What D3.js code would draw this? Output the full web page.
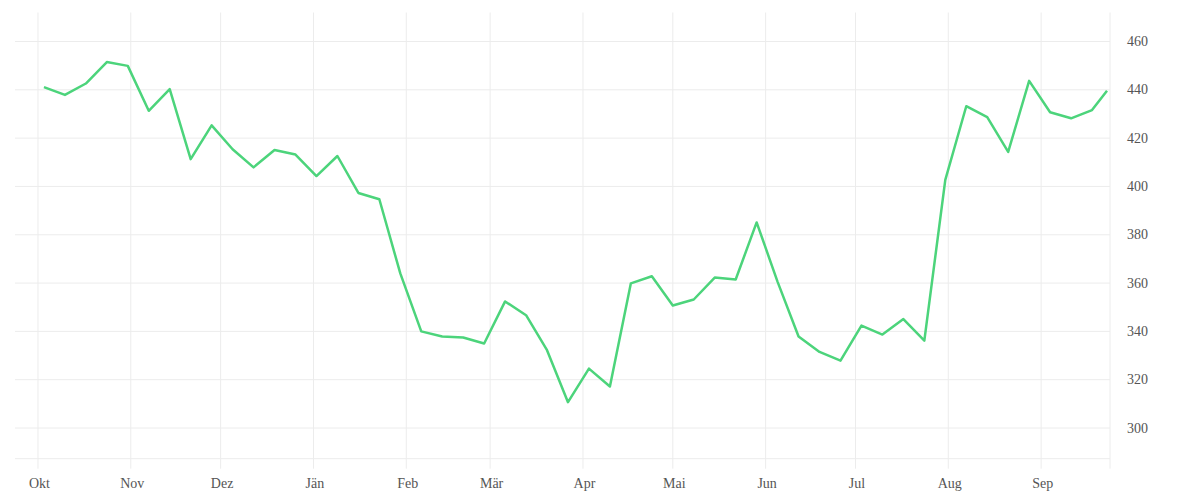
<!DOCTYPE html>
<html>
<head>
<meta charset="utf-8">
<script src="https://cdn.jsdelivr.net/npm/d3@7"></script>
<style>
  body { margin: 0; background: #fff; }
  svg text { font-family: "Liberation Serif", "DejaVu Serif", serif; font-size: 14px; fill: #555; }
</style>
</head>
<body>
<div id="chart"></div>
<script>
// weekly values
var dates = [
  "2021-10-03","2021-10-10","2021-10-17","2021-10-24","2021-10-31",
  "2021-11-07","2021-11-14","2021-11-21","2021-11-28",
  "2021-12-05","2021-12-12","2021-12-19","2021-12-26",
  "2022-01-02","2022-01-09","2022-01-16","2022-01-23","2022-01-30",
  "2022-02-06","2022-02-13","2022-02-20","2022-02-27",
  "2022-03-06","2022-03-13","2022-03-20","2022-03-27",
  "2022-04-03","2022-04-10","2022-04-17","2022-04-24",
  "2022-05-01","2022-05-08","2022-05-15","2022-05-22","2022-05-29",
  "2022-06-05","2022-06-12","2022-06-19","2022-06-26",
  "2022-07-03","2022-07-10","2022-07-17","2022-07-24","2022-07-31",
  "2022-08-07","2022-08-14","2022-08-21","2022-08-28",
  "2022-09-04","2022-09-11","2022-09-18","2022-09-23"
];
var values = [
  441.1, 437.9, 442.6, 451.5, 449.9,
  431.3, 440.3, 411.3, 425.3,
  415.4, 407.9, 415.1, 413.2,
  404.3, 412.6, 397.3, 394.7, 364.0,
  340.0, 337.9, 337.5, 335.0,
  352.4, 346.7, 332.2, 310.7,
  324.6, 317.2, 359.9, 362.8,
  350.7, 353.2, 362.3, 361.5, 385.1,
  360.5, 337.9, 331.5, 327.9,
  342.4, 338.7, 345.1, 336.2, 402.7,
  433.2, 428.7, 414.3, 443.7,
  430.7, 428.2, 431.6, 439.6
];
var monthLabels = ["Okt","Nov","Dez","Jän","Feb","Mär","Apr","Mai","Jun","Jul","Aug","Sep"];
var yTicks = [300, 320, 340, 360, 380, 400, 420, 440, 460];

var width = 1200, height = 500;
var parse = d3.timeParse("%Y-%m-%d");

var data = dates.map(function(d, i){ return { date: parse(d), value: values[i] }; });

var svg = d3.select("#chart").append("svg")
  .attr("width", width)
  .attr("height", height);

var x = d3.scaleTime()
  .domain([parse("2021-09-23"), parse("2022-09-24")])
  .range([14, 1110]);

var y = d3.scaleLinear()
  .domain([287.3, 472])
  .range([458.7, 12.5]);

var plotTop = 12.5, plotBottom = 458.7;

// month ticks
var months = d3.timeMonth.range(parse("2021-10-01"), parse("2022-09-02"));

// horizontal grid
svg.append("g").selectAll("line")
  .data(yTicks).enter().append("line")
  .attr("x1", 15).attr("x2", x.range()[1])
  .attr("y1", function(d){ return y(d); })
  .attr("y2", function(d){ return y(d); })
  .attr("stroke", "#ececec").attr("stroke-width", 1);

// bottom line
svg.append("line")
  .attr("x1", 15).attr("x2", x.range()[1])
  .attr("y1", plotBottom).attr("y2", plotBottom)
  .attr("stroke", "#ececec").attr("stroke-width", 1);

// vertical grid, extends a little below the plot
svg.append("g").selectAll("line")
  .data(months.concat([x.domain()[1]])).enter().append("line")
  .attr("x1", function(d){ return x(d); })
  .attr("x2", function(d){ return x(d); })
  .attr("y1", plotTop).attr("y2", plotBottom + 10)
  .attr("stroke", "#ececec").attr("stroke-width", 1);

// x labels
svg.append("g").selectAll("text")
  .data(months).enter().append("text")
  .attr("x", function(d){ return x(d) + 1.5; })
  .attr("y", 488)
  .attr("text-anchor", "middle")
  .text(function(d, i){ return monthLabels[i]; });

// y labels on the right
svg.append("g").selectAll("text")
  .data(yTicks).enter().append("text")
  .attr("x", 1127)
  .attr("y", function(d){ return y(d) + 4.5; })
  .text(function(d){ return d; });

var line = d3.line()
  .x(function(d){ return x(d.date); })
  .y(function(d){ return y(d.value); });

svg.append("path")
  .datum(data)
  .attr("d", line)
  .attr("fill", "none")
  .attr("stroke", "#4cd47b")
  .attr("stroke-width", 2.5)
  .attr("stroke-linejoin", "round");
</script>
</body>
</html>
